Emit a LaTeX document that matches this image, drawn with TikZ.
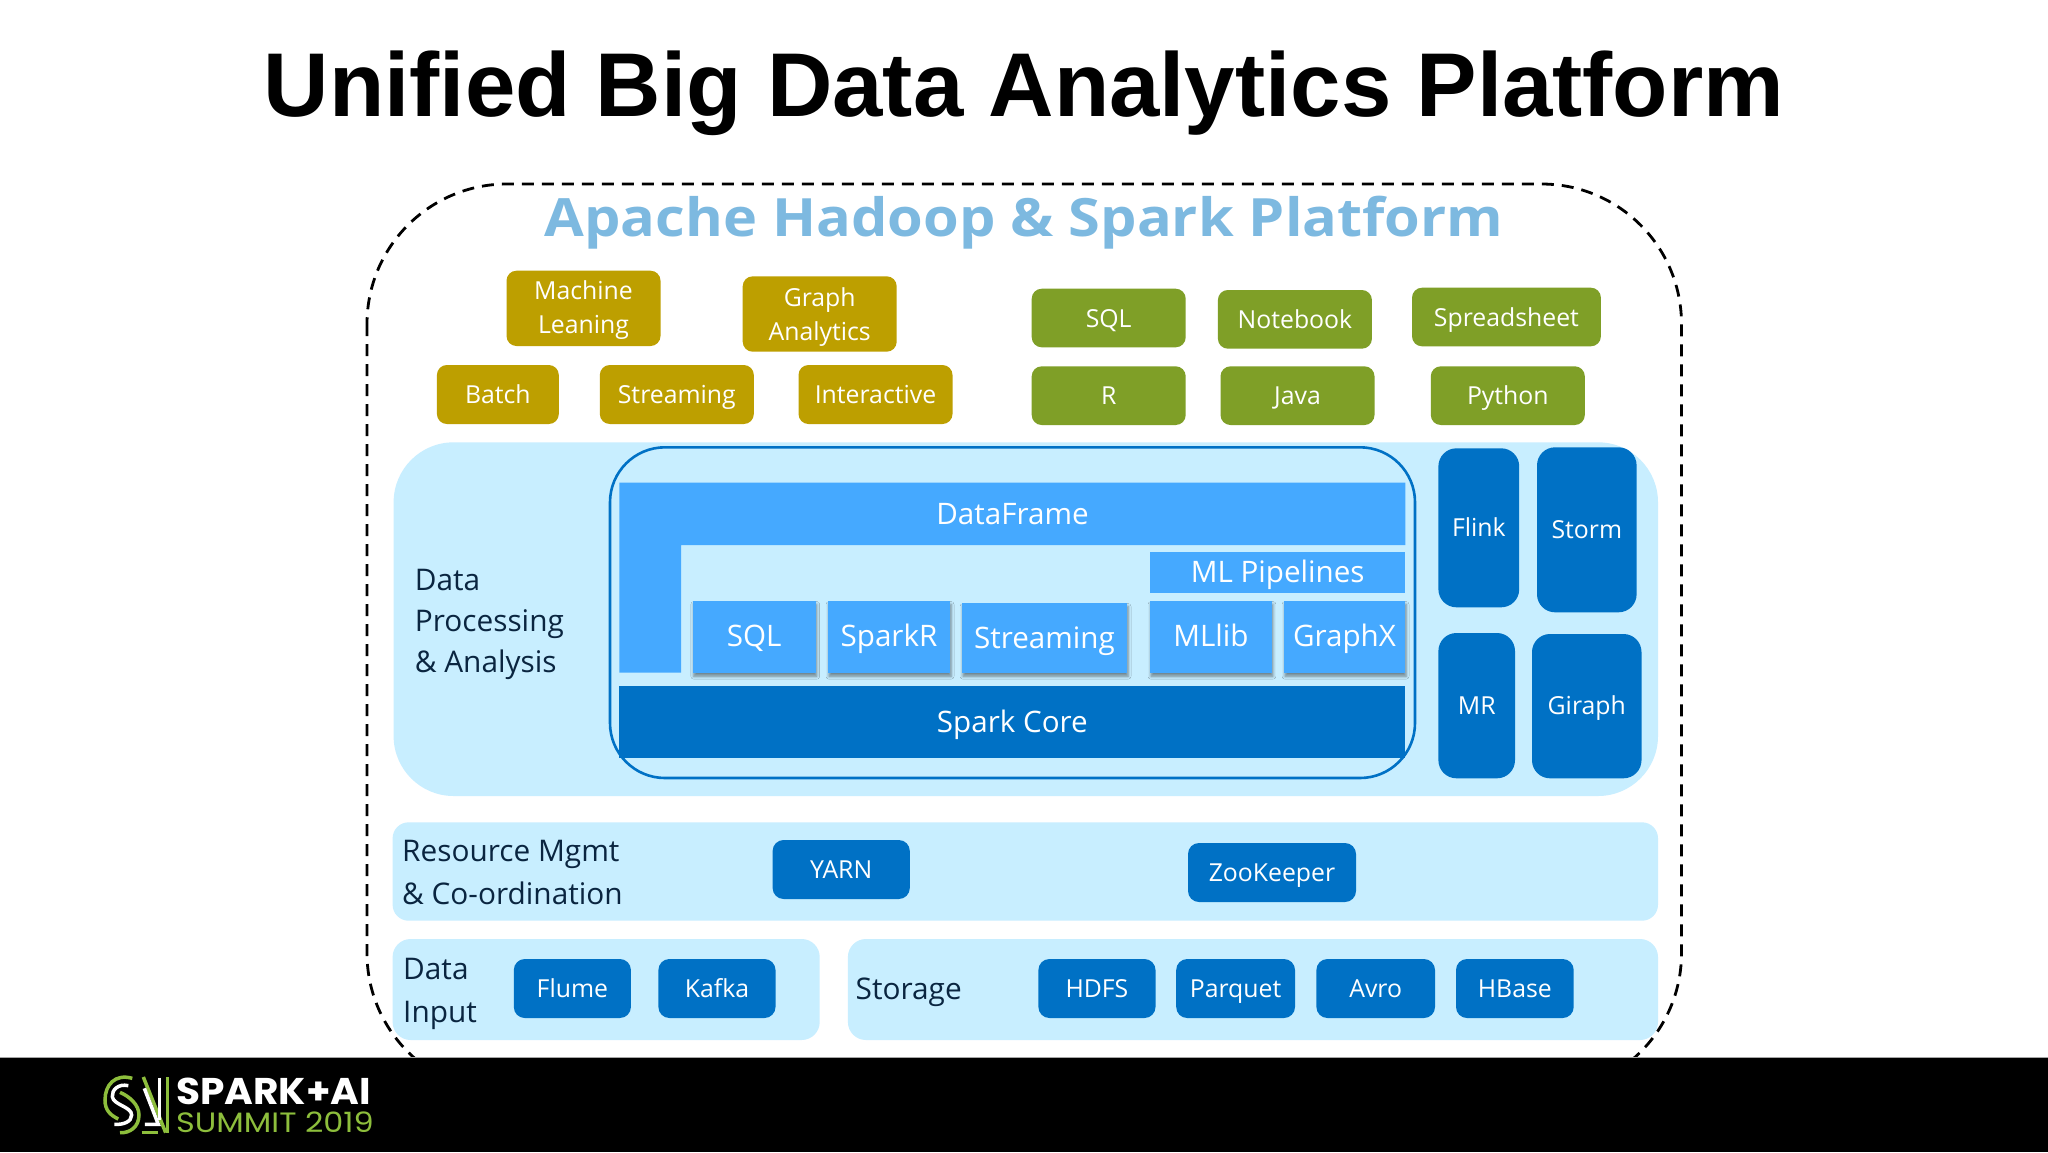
\documentclass[tikz,border=0pt]{standalone}
\usepackage{fontspec}
\setmainfont{Open Sans}
\newfontfamily\titlefont[Ligatures=NoCommon]{Liberation Sans}
\newfontfamily\subfont[FakeStretch=1.092]{Open Sans}
\newfontfamily\logofont[FakeStretch=1.05]{Poppins}
\newfontfamily\logofontb[FakeStretch=1.14]{Poppins}
\definecolor{olivey}{HTML}{BD9F00}
\definecolor{oliveg}{HTML}{7F9F27}
\definecolor{panelc}{HTML}{C8EEFF}
\definecolor{blued}{HTML}{0071C5}
\definecolor{bluel}{HTML}{45A9FF}
\definecolor{subt}{HTML}{7DB9E0}
\definecolor{labelc}{HTML}{0A2540}
\definecolor{logog}{HTML}{8DBE3C}
\newcommand\szf[2]{\fontsize{#1}{#2}\selectfont}
\newcommand\bx[8]{%
  \pgfmathsetmacro\bxcx{(#3+#5)/2}\pgfmathsetmacro\bxcy{(#4+#6)/2}%
  \pgfmathsetlengthmacro\bxw{(#5-#3)*1pt}%
  \pgfmathsetlengthmacro\bxh{(#7-#4)*1pt}\pgfmathsetlengthmacro\bxd{(#6-#7)*1pt}%
  \node[#2,minimum width=\bxw,text height=\bxh,text depth=\bxd,inner sep=0pt] (#1) at (\bxcx,\bxcy) {#8};}
\usetikzlibrary{shadows.blur}
\tikzset{
  olivebox/.style={fill=olivey,rounded corners=10pt,text=white,font=\szf{24.8}{34},align=center},
  greenbox/.style={fill=oliveg,rounded corners=10pt,text=white,font=\szf{24.8}{34}},
  darkbox/.style={fill=blued,rounded corners=11pt,text=white,font=\szf{24.8}{34}},
  tallbox/.style={fill=blued,rounded corners=18pt,text=white,font=\szf{24.8}{34}},
  lightbar/.style={fill=bluel,text=white,font=\szf{29.6}{34}},
  corebar/.style={fill=blued,text=white,font=\szf{29.6}{34}},
  modbox/.style={fill=bluel,text=white,font=\szf{29.6}{34},blur shadow={shadow xshift=1pt,shadow yshift=-3.5pt,shadow blur radius=3pt,shadow opacity=45}},
  panel/.style={fill=panelc,draw=none},
  lbl/.style={text=labelc,font=\szf{29.8}{41},align=left,inner sep=0pt,anchor=base west},
  logoline/.style={line width=3.5pt,line cap=butt}
}
\begin{document}
\begin{tikzpicture}[x=1pt,y=-1pt]
\useasboundingbox (0,0) rectangle (2048,1152);
\fill[white] (0,0) rectangle (2048,1152);
% titles
\node[font=\titlefont\bfseries\szf{90.6}{100},anchor=base,inner sep=0pt] (title) at (1024,116.7) {Unified Big Data Analytics Platform};
\node[font=\subfont\bfseries\szf{52.8}{60},text=subt,anchor=base,inner sep=0pt] (subtitle) at (1024,236) {Apache Hadoop \& Spark Platform};
% outer dashed frame
\draw[line width=2.8pt,dash pattern=on 12pt off 8pt,rounded corners=140pt] (367,184) rectangle (1681.5,1093);
% panels
\path[panel,rounded corners=60pt] (393.6,442.3) rectangle (1658,796) node[midway,inner sep=0pt] (procp) {};
\path[panel,rounded corners=16pt] (392.6,822.3) rectangle (1658,920.7) node[midway,inner sep=0pt] (resp) {};
\path[panel,rounded corners=18pt] (392.6,939) rectangle (819.7,1040) node[midway,inner sep=0pt] (inp) {};
\path[panel,rounded corners=18pt] (847.9,939) rectangle (1658,1040) node[midway,inner sep=0pt] (stop) {};
% panel labels
\node[lbl] (lproc) at (414.7,672) {Data\\Processing\\\& Analysis};
\node[lbl,font=\szf{29.8}{43}] (lres) at (402,904.5) {Resource Mgmt\\\& Co-ordination};
\node[lbl,font=\szf{29.8}{43}] (linp) at (403,1022) {Data\\Input};
\node[lbl] (lsto) at (855.5,999) {Storage};
% workloads
\bx{ml}{olivebox}{506.5}{270.7}{660.5}{346}{333}{Machine\\Leaning}
\bx{ga}{olivebox}{742.7}{276.3}{896.7}{351.7}{340}{Graph\\Analytics}
\bx{batch}{olivebox}{436.9}{365}{558.8}{424}{403}{Batch}
\bx{strm}{olivebox}{599.8}{365}{753.8}{424}{403}{Streaming}
\bx{inter}{olivebox}{798.5}{365}{952.5}{424}{403}{Interactive}
% interfaces
\bx{sqlg}{greenbox}{1031.7}{288.7}{1185.7}{347.3}{327}{SQL}
\bx{nb}{greenbox}{1217.9}{290}{1371.9}{348.7}{328}{Notebook}
\bx{sheet}{greenbox}{1412}{287.7}{1600.9}{346.3}{326}{Spreadsheet}
\bx{rg}{greenbox}{1031.7}{366.3}{1185.7}{425}{404}{R}
\bx{java}{greenbox}{1220.5}{366.3}{1374.5}{425}{404}{Java}
\bx{py}{greenbox}{1430.8}{366.3}{1584.8}{425}{404}{Python}
% Spark stack
\draw[blued,line width=2.6pt,rounded corners=55pt] (610,447.3) rectangle (1415,778);
\fill[bluel] (619.3,482.7) -- (1405.4,482.7) -- (1405.4,545) -- (681,545) -- (681,672.7) -- (619.3,672.7) -- cycle;
\node[text=white,font=\szf{29.6}{34},anchor=base,inner sep=0pt] (df) at (1012.5,524) {DataFrame};
\bx{mlp}{lightbar}{1150}{552.3}{1405.4}{592.7}{582.7}{ML Pipelines}
\bx{sqls}{modbox}{692.8}{601}{815.7}{672.7}{646.7}{SQL}
\bx{sparkr}{modbox}{828}{601}{950}{672.7}{646.7}{SparkR}
\bx{strs}{modbox}{962}{603}{1127}{672.7}{648.7}{Streaming}
\bx{mllib}{modbox}{1150}{601}{1271.9}{672.7}{646.7}{MLlib}
\bx{graphx}{modbox}{1284}{601}{1405}{672.7}{646.7}{GraphX}
\bx{core}{corebar}{619.3}{685.7}{1405.4}{758.3}{732.2}{Spark Core}
% side engines
\bx{flink}{tallbox}{1438.4}{448.3}{1519.2}{607.3}{536}{Flink}
\bx{storm}{tallbox}{1537}{447.3}{1636.6}{612.3}{538}{Storm}
\bx{mr}{tallbox}{1438.4}{633}{1515}{778.3}{714}{MR}
\bx{giraph}{tallbox}{1532}{634}{1641.5}{778.3}{714}{Giraph}
% resource
\bx{yarn}{darkbox}{772.6}{840}{909.8}{899}{878}{YARN}
\bx{zk}{darkbox}{1188}{843}{1356}{902}{881}{ZooKeeper}
% input
\bx{flume}{darkbox}{513.8}{959}{630.9}{1018}{997}{Flume}
\bx{kafka}{darkbox}{658.4}{959}{775.5}{1018}{997}{Kafka}
% storage
\bx{hdfs}{darkbox}{1038.4}{959}{1155.5}{1018}{997}{HDFS}
\bx{parq}{darkbox}{1176.2}{959}{1295}{1018}{997}{Parquet}
\bx{avro}{darkbox}{1316.4}{959}{1435}{1018}{997}{Avro}
\bx{hbase}{darkbox}{1456}{959}{1573.7}{1018}{997}{HBase}
% footer
\fill[black] (0,1057) rectangle (2048,1152);
\draw[gray!70,line width=1pt] (0,1057) -- (2048,1057);
\node[font=\logofont\bfseries\szf{37.2}{40},text=white,anchor=base west,inner sep=0pt] (logo1) at (176,1104) {SPARK+AI};
\node[font=\logofontb\szf{28}{30},text=logog,anchor=base west,inner sep=0pt] (logo2) at (176,1132.7) {SUMMIT 2019};
\begin{scope}[shift={(95,1065)},x=0.3333pt,y=-0.3333pt]
\draw[logog,logoline] (112,40) .. controls (60,25) and (30,60) .. (30,105) .. controls (30,135) and (45,150) .. (70,162);
\draw[white,logoline] (100,62) .. controls (70,55) and (50,75) .. (52,95) .. controls (55,120) and (110,125) .. (110,150) .. controls (110,170) and (85,180) .. (58,178);
\draw[logog,logoline] (75,82) .. controls (105,95) and (132,120) .. (132,150) .. controls (132,185) and (105,205) .. (75,203);
\draw[logog,logoline] (145,36) -- (212,203);
\draw[logog,logoline] (218,36) -- (218,203);
\draw[white,logoline] (193,38) -- (193,165);
\draw[white,logoline] (148,70) -- (190,178) -- (150,178);
\draw[logog,logoline] (140,203) -- (188,203);
\end{scope}
\end{tikzpicture}
\end{document}
